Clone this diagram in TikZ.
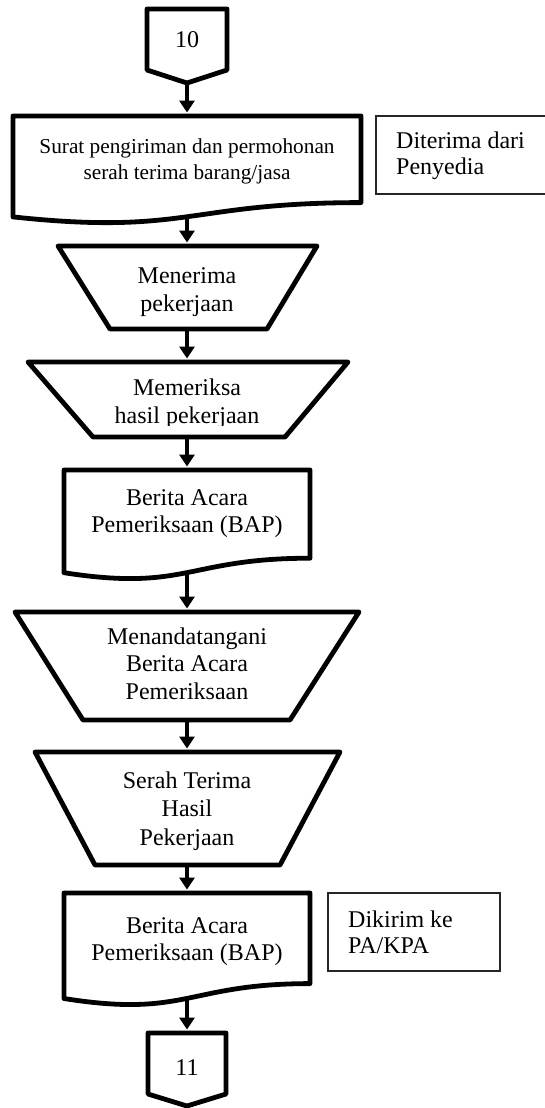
\documentclass[tikz,border=0pt]{standalone}
\usepackage{fontspec}
\setmainfont{Liberation Serif}
\usetikzlibrary{arrows.meta}
\begin{document}
\begin{tikzpicture}[x=1pt,y=-1pt,
  shp/.style={draw=black, line width=4.8pt, line join=round},
  notebox/.style={draw=black!85, line width=1.2pt},
  arr/.style={draw=black, line width=3.6pt, -{Triangle[length=12pt,width=15pt]}, shorten >=1.5pt},
  lbl/.style={anchor=base, inner sep=0pt, font=\fontsize{24}{27}\selectfont},
  lbls/.style={anchor=base, inner sep=0pt, font=\fontsize{21.3}{25}\selectfont},
  lbll/.style={anchor=base west, inner sep=0pt, font=\fontsize{24}{27}\selectfont},
]
\useasboundingbox (0,0) rectangle (544,1108);

% off-page connector 10
\draw[shp] (147,9) -- (227,9) -- (227,70) -- (187,83) -- (147,70) -- cycle;
\node[lbl] (n10) at (187,48) {10};
\coordinate (c10b) at (187,83);

% document 1
\draw[shp] (13,116) -- (361,116) -- (361,202.6) .. controls (187,202.6) and (187,235.6) .. (13,216.9) -- cycle;
\coordinate (d1t) at (187,114);
\coordinate (d1b) at (187,216.8);
\node[lbls] (d1a) at (187,153) {Surat pengiriman dan permohonan};
\node[lbls] (d1c) at (187,179) {serah terima barang/jasa};

% note 1
\draw[notebox] (376,116) -- (548,116) -- (548,194) -- (376,194) -- cycle;
\node[lbll] (n1a) at (396,148) {Diterima dari};
\node[lbll] (n1b) at (396,174) {Penyedia};

% trapezoid 1
\draw[shp] (58,246) -- (317,246) -- (267,329) -- (110,329) -- cycle;
\coordinate (t1t) at (187,244);
\coordinate (t1b) at (187,329);
\node[lbl] (t1a) at (187,283) {Menerima};
\node[lbl] (t1c) at (187,311.7) {pekerjaan};

% trapezoid 2
\draw[shp] (28,362) -- (348,362) -- (285,437) -- (93,437) -- cycle;
\coordinate (t2t) at (187,360);
\coordinate (t2b) at (187,437);
\node[lbl] (t2a) at (187,395.7) {Memeriksa};
\begin{scope}
  \clip (0,380) rectangle (544,425);
  \node[lbl] (t2c) at (187,423.3) {hasil pekerjaan};
\end{scope}

% document BAP 1
\draw[shp] (64,470) -- (310,470) -- (310,558.2) .. controls (187,558.2) and (187,591.8) .. (64,572.7) -- cycle;
\coordinate (b1t) at (187,468);
\coordinate (b1b) at (187,572.6);
\node[lbl] (b1a) at (187,505) {Berita Acara};
\node[lbl] (b1c) at (187,532) {Pemeriksaan (BAP)};

% trapezoid 3
\draw[shp] (15,612) -- (359,612) -- (290,720) -- (83,720) -- cycle;
\coordinate (t3t) at (187,610);
\coordinate (t3b) at (187,720);
\node[lbl] (t3a) at (187,644) {Menandatangani};
\node[lbl] (t3c) at (187,671.7) {Berita Acara};
\node[lbl] (t3d) at (187,699.3) {Pemeriksaan};

% trapezoid 4
\draw[shp] (35,752) -- (340,752) -- (280,865) -- (95,865) -- cycle;
\coordinate (t4t) at (187,750);
\coordinate (t4b) at (187,865);
\node[lbl] (t4a) at (187,788.3) {Serah Terima};
\node[lbl] (t4c) at (187,816.7) {Hasil};
\node[lbl] (t4d) at (187,845) {Pekerjaan};

% document BAP 2
\draw[shp] (64,893) -- (310,893) -- (310,983.6) .. controls (187,983.6) and (187,1018.1) .. (64,998.5) -- cycle;
\coordinate (b2t) at (187,891);
\coordinate (b2b) at (187,998.4);
\node[lbl] (b2a) at (187,933) {Berita Acara};
\node[lbl] (b2c) at (187,960) {Pemeriksaan (BAP)};

% note 2
\draw[notebox] (328,893) -- (500,893) -- (500,971) -- (328,971) -- cycle;
\node[lbll] (n2a) at (348,927) {Dikirim ke};
\node[lbll] (n2b) at (348,953) {PA/KPA};

% off-page connector 11
\draw[shp] (148,1033) -- (226,1033) -- (226,1094) -- (187,1106) -- (148,1094) -- cycle;
\coordinate (c11t) at (187,1031);
\node[lbl] (n11) at (187,1075) {11};

% connectors
\draw[arr] (c10b) -- (d1t);
\draw[arr] (d1b) -- (t1t);
\draw[arr] (t1b) -- (t2t);
\draw[arr] (t2b) -- (b1t);
\draw[arr] (b1b) -- (t3t);
\draw[arr] (t3b) -- (t4t);
\draw[arr] (t4b) -- (b2t);
\draw[arr] (b2b) -- (c11t);
\end{tikzpicture}
\end{document}
